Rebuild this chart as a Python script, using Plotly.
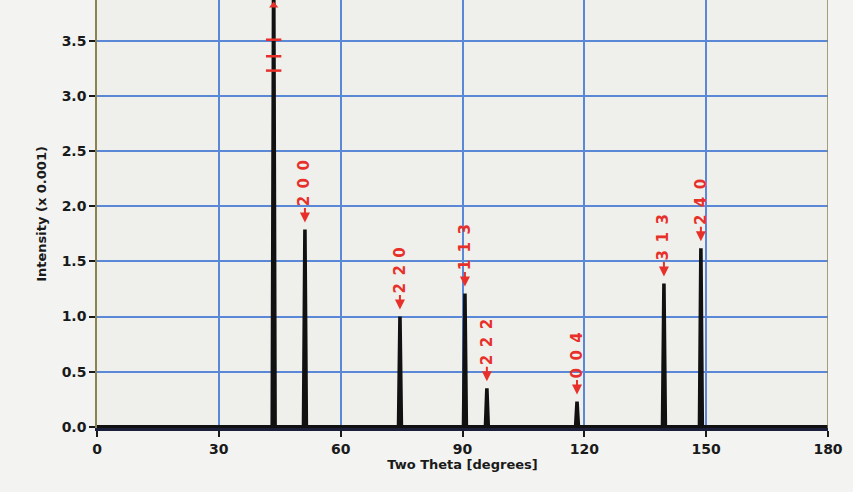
import plotly.graph_objects as go

# Peak data (two-theta in degrees, intensity x 0.001)
peak_pos = [43.5, 51.2, 74.6, 90.6, 96.0, 118.2, 139.6, 148.7]
peak_int = [4.30, 1.79, 1.00, 1.21, 0.35, 0.23, 1.30, 1.62]
peak_lab = ["", "200", "220", "113", "222", "004", "313", "240"]

x_ticks = [0, 30, 60, 90, 120, 150, 180]
y_ticks = [0.0, 0.5, 1.0, 1.5, 2.0, 2.5, 3.0, 3.5]
offscale_marks = [3.51, 3.36, 3.23]
offscale_arrow_y = [3.82]

half_w = 0.35
xs, ys = [0], [0]
for p, h in zip(peak_pos, peak_int):
    xs += [p - half_w, p, p + half_w]
    ys += [0, h, 0]
xs.append(180)
ys.append(0)

fig = go.Figure()
fig.add_trace(go.Scatter(x=xs, y=ys, mode="lines",
                         line=dict(color="#111111", width=3.6),
                         hoverinfo="skip", showlegend=False))

# off-scale markers on the main peak
fig.add_trace(go.Scatter(x=[peak_pos[0]] * len(offscale_marks), y=offscale_marks,
                         mode="markers",
                         marker=dict(symbol="line-ew", size=11,
                                     line=dict(color="#e8302a", width=2.5)),
                         hoverinfo="skip", showlegend=False))
fig.add_trace(go.Scatter(x=[peak_pos[0]], y=offscale_arrow_y, mode="markers",
                         marker=dict(symbol="triangle-up", size=8, color="#e8302a"),
                         cliponaxis=False, hoverinfo="skip", showlegend=False))

sp = "\u2002"
annotations = []
for p, h, lab in zip(peak_pos, peak_int, peak_lab):
    if not lab:
        continue
    annotations.append(dict(x=p, y=h, xref="x", yref="y",
                            text=sp.join(lab), textangle=-90,
                            showarrow=True, ax=0, ay=-46, standoff=7,
                            arrowhead=2, arrowsize=1, arrowwidth=2,
                            arrowcolor="#e8302a",
                            font=dict(family="DejaVu Sans", size=15, color="#e8302a",
                                      weight="bold")))

fig.update_layout(
    width=853, height=492,
    margin=dict(l=97, r=25, t=0, b=64),
    paper_bgcolor="#f3f3f1",
    plot_bgcolor="#efefec",
    font=dict(family="DejaVu Sans", size=13, color="#1a1a1a"),
    annotations=annotations,
    xaxis=dict(range=[0, 180], tickvals=x_ticks, ticktext=[str(v) for v in x_ticks],
               automargin=False,
               showgrid=True, gridcolor="#5a88d6", gridwidth=1.5,
               showline=True, linecolor="#1c1f3a", linewidth=3, mirror=False,
               ticks="outside", ticklen=6, tickwidth=2, tickcolor="#1a1a1a",
               tickfont=dict(family="DejaVu Sans", size=14, color="#1a1a1a", weight="bold"),
               title=dict(text="Two Theta [degrees]", standoff=2,
                          font=dict(family="DejaVu Sans", size=13, color="#1a1a1a", weight="bold")),
               zeroline=False),
    yaxis=dict(range=[-0.01, 3.87], tickvals=y_ticks, ticktext=[f"{v:.1f}" for v in y_ticks],
               automargin=False,
               showgrid=True, gridcolor="#5a88d6", gridwidth=1.5,
               showline=True, linecolor="#8a8350", linewidth=1.5,
               ticks="outside", ticklen=6, tickwidth=2, tickcolor="#1a1a1a",
               tickfont=dict(family="DejaVu Sans", size=14, color="#1a1a1a", weight="bold"),
               title=dict(text="Intensity (x 0.001)", standoff=12,
                          font=dict(family="DejaVu Sans", size=13, color="#1a1a1a", weight="bold")),
               zeroline=False),
    shapes=[dict(type="line", xref="x", yref="paper", x0=180, x1=180, y0=0, y1=1,
                 line=dict(color="#8a8350", width=1.5))],
)

fig.write_html("out.html", config={"displayModeBar": False},
               post_script="document.body.style.margin='0';")
